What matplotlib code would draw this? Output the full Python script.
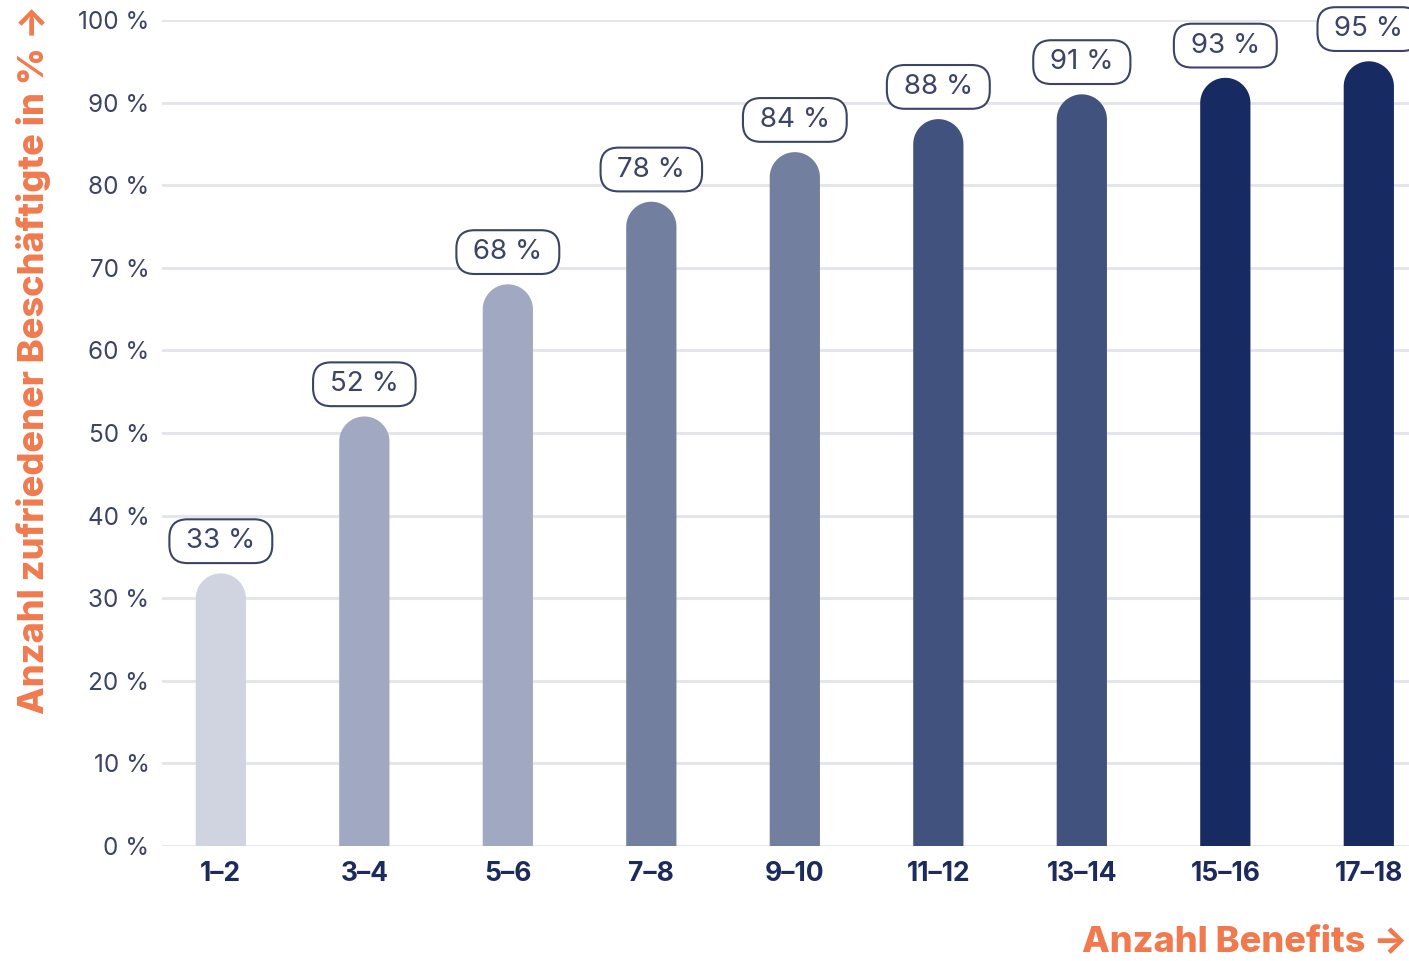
import numpy as np
import matplotlib.pyplot as plt
from matplotlib.patches import Polygon

categories = ['1–2', '3–4', '5–6', '7–8', '9–10', '11–12', '13–14', '15–16', '17–18']
values = [33, 52, 68, 78, 84, 88, 91, 93, 95]
colors = ['#cfd4e0', '#a1a9c2', '#a1a9c2', '#737f9f', '#737f9f',
          '#41527f', '#41527f', '#172b62', '#172b62']
yticks = list(range(0, 101, 10))

orange = '#f07a4e'
navy = '#1c2a5c'
tick_gray = '#3c4465'

plt.rcParams['font.family'] = ['Inter', 'DejaVu Sans']

fig = plt.figure(figsize=(14.09, 9.61), dpi=100)
ax = fig.add_axes([162 / 1409, 115 / 961, 1 - 162 / 1409, 826 / 961])

x = list(range(len(categories)))
width = 0.35
ax.set_xlim(-0.41, 8.28)
ax.set_ylim(0, 100)

# radius of the rounded cap in y data units (half bar width converted)
fig.canvas.draw()
bbox = ax.get_window_extent()
px_per_x = bbox.width / (8.28 + 0.41)
px_per_y = bbox.height / 100
r_y = width / 2 * px_per_x / px_per_y

t = np.linspace(0, np.pi, 60)
for xi, v, c in zip(x, values, colors):
    # bar outline: straight sides plus a half-circle cap ending at the value
    base = v - r_y
    arc_x = xi + width / 2 * np.cos(t)
    arc_y = base + r_y * np.sin(t)
    xs = np.concatenate([[xi + width / 2], arc_x, [xi - width / 2]])
    ys = np.concatenate([[0], arc_y, [0]])
    ax.add_patch(Polygon(np.column_stack([xs, ys]), closed=True, fc=c,
                         lw=0, zorder=3))
    ax.text(xi, v + 3.9, f' {v} % ', ha='center', va='center', fontsize=20,
            color=tick_gray, zorder=4, clip_on=False,
            bbox=dict(boxstyle='round,pad=0.32,rounding_size=0.65',
                      fc='white', ec=tick_gray, lw=1.5))

ax.set_yticks(yticks)
ax.set_yticklabels([f'{t} %' for t in yticks], fontsize=17.5, color=tick_gray)
ax.set_xticks(x)
ax.set_xticklabels(categories, fontsize=19, fontweight='bold', color=navy)
ax.tick_params(axis='both', length=0)
ax.tick_params(axis='y', pad=9)
ax.tick_params(axis='x', pad=11)

ax.grid(axis='y', color='#e4e5ea', lw=2, zorder=0)
ax.set_axisbelow(True)
for s in ax.spines.values():
    s.set_visible(False)

fig.text(0.024, 0.995, 'Anzahl zufriedener Beschäftigte in % →', rotation=90,
         ha='center', va='top', fontsize=26, fontweight='heavy', color=orange)
fig.text(0.999, 0.0104, 'Anzahl Benefits →', ha='right', va='baseline',
         fontsize=26, fontweight='heavy', color=orange)

fig.savefig('out.png', dpi=100)
